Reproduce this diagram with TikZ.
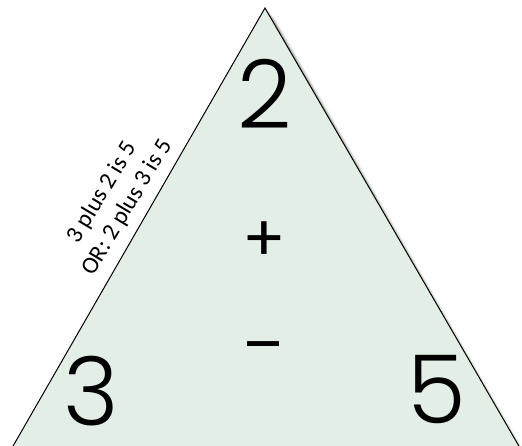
\documentclass[tikz,border=0pt]{standalone}
\usepackage{fontspec}
\setmainfont{Poppins Light}
\newfontfamily\labelfont{Carlito}
\newfontfamily\signfont{Poppins}
\definecolor{trifill}{HTML}{E3EFE6}
\begin{document}
\begin{tikzpicture}[x=1pt,y=-1pt,
  digit/.style={font=\fontsize{95}{95}\selectfont, inner sep=0pt, anchor=center},
  sign/.style={font=\signfont\fontsize{64}{64}\selectfont, inner sep=0pt},
  note/.style={font=\labelfont\fontsize{24}{29}\selectfont, align=center, rotate=59, inner sep=0pt}]
\useasboundingbox (0,0) rectangle (522,446);
\clip (0,0) rectangle (522,446);
% shadow
\foreach \s/\o in {10/0.05,8/0.07,6/0.09,4/0.12,2/0.15}{
  \fill[black,opacity=\o] (265+\s,8+\s) -- (525+\s,460+\s) -- (5+\s,460+\s) -- cycle;
}
\coordinate (apex) at (265,8);
\coordinate (bl) at (5,460);
\coordinate (br) at (527,460);
\fill[trifill] (apex) -- (br) -- (bl) -- cycle;
\draw[black,line width=1pt] (bl) -- (apex) -- (br);
\node[digit] (two) at (265,94) {2};
\node[digit] (three) at (91,391) {3};
\node[digit] (five) at (437,390) {5};
\node[sign] (plus) at (264,242) {+};
\node[sign, xscale=1.25] (minus) at (264,355) {−};
\node[note] (lbl) at (115,200) {3 plus 2 is 5\\OR: 2 plus 3 is 5};
\end{tikzpicture}
\end{document}
